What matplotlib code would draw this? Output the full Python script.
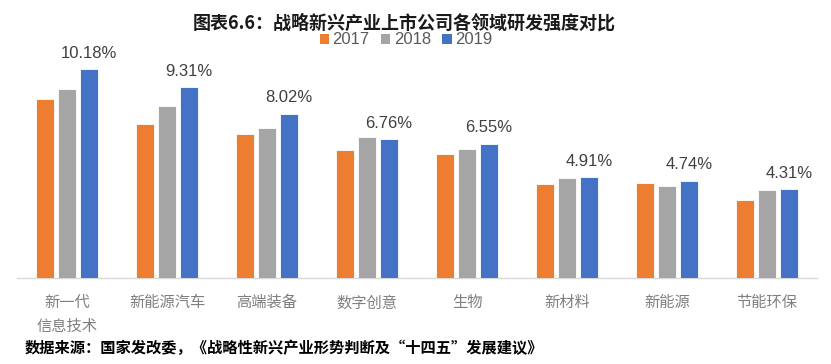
import matplotlib
matplotlib.use("Agg")
import matplotlib.pyplot as plt
import numpy as np
from matplotlib.patches import Patch

plt.rcParams['font.family'] = ['Noto Sans CJK SC', 'DejaVu Sans']

# R&D intensity (%) by field
categories = ['新一代\n信息技术', '新能源汽车', '高端装备', '数字创意',
              '生物', '新材料', '新能源', '节能环保']
years = ['2017', '2018', '2019']
v2017 = [8.71, 7.52, 7.02, 6.25, 6.03, 4.56, 4.61, 3.78]
v2018 = [9.22, 8.40, 7.30, 6.89, 6.27, 4.89, 4.48, 4.28]
v2019 = [10.18, 9.31, 8.02, 6.76, 6.55, 4.91, 4.74, 4.31]

colors = ['#ED7D31', '#A5A5A5', '#4472C4']

fig = plt.figure(figsize=(8.31, 3.64), dpi=100)
ax = fig.add_axes([17 / 831, 86.3 / 364, 800 / 831, 237.7 / 364])

x = np.arange(len(categories))
step = 0.22
width = 0.18
series = [v2017, v2018, v2019]
for i, (vals, c) in enumerate(zip(series, colors)):
    ax.bar(x + (i - 1) * step, vals, width, color=c, edgecolor='white',
           linewidth=0.6, zorder=3)

# labels only on the 2019 bars
for xi, v in zip(x, v2019):
    ax.annotate(f'{v:.2f}%', (xi + step, v), xytext=(0, 6),
                textcoords='offset points', ha='center', va='bottom',
                fontsize=12, color='#404040', family='Liberation Sans')

ax.set_xlim(-0.5, len(categories) - 0.5)
ax.set_ylim(0, 11.61)
ax.set_xticks(x)
ax.set_xticklabels(categories, fontsize=11, color='#7f7f7f', linespacing=1.5)
ax.tick_params(axis='x', length=0, pad=12)
ax.set_yticks([])
for s in ['top', 'right', 'left']:
    ax.spines[s].set_visible(False)
ax.spines['bottom'].set_color('#d9d9d9')
ax.spines['bottom'].set_linewidth(1)

fig.text(404 / 831, 1 - 23 / 364, '图表6.6：战略新兴产业上市公司各领域研发强度对比',
         ha='center', va='center', fontsize=13, fontweight='bold', color='#1a1a1a')

handles = [Patch(facecolor=c, edgecolor='none') for c in colors]
fig.legend(handles, years, loc='center', bbox_to_anchor=(406 / 831, 1 - 40 / 364),
           ncol=3, frameon=False, handlelength=0.55, handleheight=0.55,
           handletextpad=0.2, columnspacing=0.7,
           prop={'family': 'Liberation Sans', 'size': 12}, labelcolor='#595959')

fig.text(25 / 831, 1 - 348 / 364,
         '数据来源：国家发改委，《战略性新兴产业形势判断及“十四五”发展建议》',
         ha='left', va='center', fontsize=11, fontweight='bold', color='black')

fig.savefig('out.png', dpi=100)
